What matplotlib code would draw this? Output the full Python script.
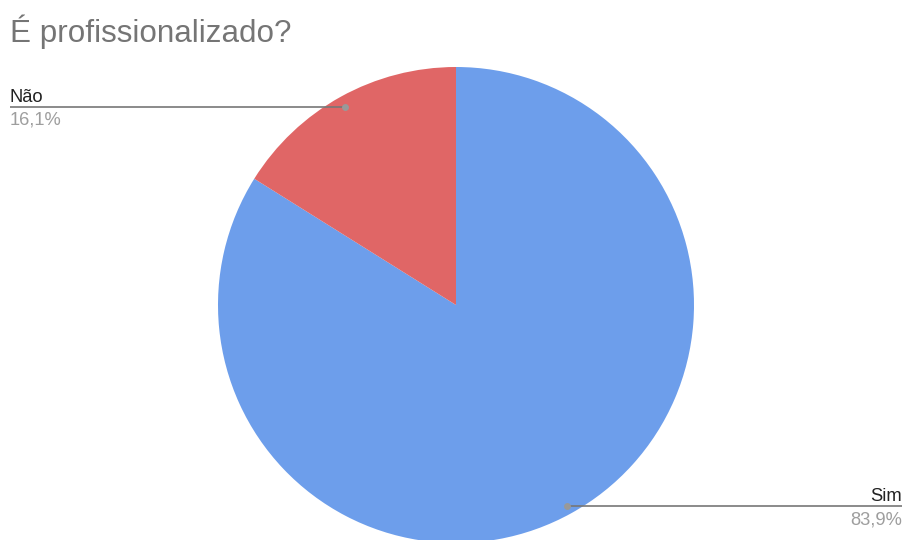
import numpy as np
import matplotlib.pyplot as plt

plt.rcParams['font.family'] = ['Liberation Sans', 'DejaVu Sans']

TITLE = "É profissionalizado?"
labels = ["Sim", "Não"]
values = [83.9, 16.1]
colors = ["#6d9eeb", "#e06666"]

W, H = 903, 540
CX, CY, R = 456, H - 305, 238

fig = plt.figure(figsize=(W / 100, H / 100), dpi=100)
ax = fig.add_axes([0, 0, 1, 1])

wedges, _ = ax.pie(values, colors=colors, startangle=90, counterclock=False,
                   center=(CX, CY), radius=R,
                   wedgeprops=dict(linewidth=0))
ax.set_xlim(0, W)
ax.set_ylim(0, H)
ax.set_aspect('equal')
ax.axis('off')

fig.text(10 / W, 1 - 42 / H, TITLE, fontsize=22.6, color="#757575", ha="left", va="baseline")

# leader lines: dot near the edge of each wedge, line to the label on the side
for w, lab, val in zip(wedges, labels, values):
    ang = np.deg2rad((w.theta1 + w.theta2) / 2)
    px = CX + 0.96 * R * np.cos(ang)
    py = CY + 0.96 * R * np.sin(ang) - 1.5
    pct = f"{val:.1f}%".replace(".", ",")
    if np.cos(ang) < 0:
        x_end, ha = 10, "left"
    else:
        x_end, ha = W - 1, "right"
    ax.plot([px, x_end], [py, py], color="#777777", lw=1.2, solid_capstyle="butt", zorder=3)
    ax.plot(px, py, "o", ms=5, color="#999999", mec="none", zorder=4)
    ax.text(x_end, py + 5, lab, fontsize=13.2, color="#222222", ha=ha, va="baseline")
    ax.text(x_end, py - 18, pct, fontsize=13.2, color="#9e9e9e", ha=ha, va="baseline")

fig.savefig("out.png", dpi=100)
